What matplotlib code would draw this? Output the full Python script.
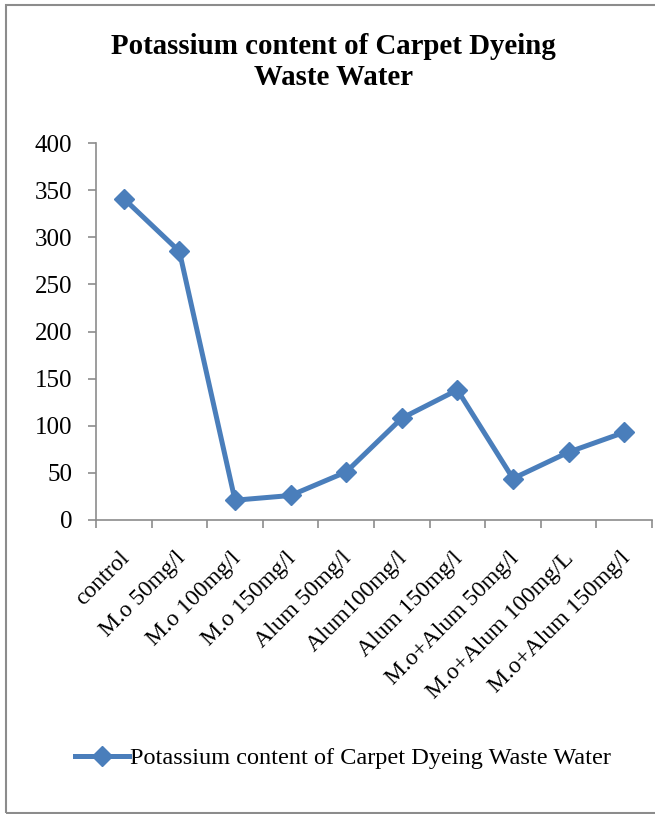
import matplotlib
matplotlib.use("Agg")
import matplotlib.pyplot as plt
from matplotlib.patches import Rectangle
from matplotlib.transforms import ScaledTranslation

categories = ["control", "M.o 50mg/l", "M.o 100mg/l", "M.o 150mg/l", "Alum 50mg/l",
              "Alum100mg/l", "Alum 150mg/l", "M.o+Alum 50mg/l", "M.o+Alum 100mg/L",
              "M.o+Alum 150mg/l"]
potassium = [341, 285, 21, 26, 51, 108, 138, 44, 72, 93]
series_name = "Potassium content of Carpet Dyeing Waste Water"
title = "Potassium content of Carpet Dyeing\nWaste Water"
yticks = [0, 50, 100, 150, 200, 250, 300, 350, 400]

plt.rcParams['font.family'] = ['Liberation Serif', 'DejaVu Serif']

W, H = 655, 814
fig = plt.figure(figsize=(W / 100, H / 100), dpi=100)

# outer border
fig.patches.append(Rectangle((6 / W, 1 / H), (W + 5 - 6) / W, (813 - 5) / H,
                             transform=fig.transFigure, fill=False,
                             edgecolor='#8c8c8c', linewidth=1.5))

ax = fig.add_axes([96 / W, 1 - 520 / H, (652 - 96) / W, (520 - 143) / H])
color = '#4A7EBB'
x = list(range(len(categories)))
ax.plot(x, potassium, color=color, linewidth=3.6, marker='D', markersize=10.5,
        markerfacecolor=color, markeredgecolor=color, label=series_name)

ax.set_xlim(-0.5, len(categories) - 0.5)
ax.set_ylim(0, 400)
ax.set_yticks(yticks)
ax.set_yticklabels([str(v) for v in yticks], fontsize=18)
ax.set_xticks(x)
ax.set_xticklabels(categories, rotation=45, ha='right', rotation_mode='anchor', fontsize=17)
ax.set_xticks([i - 0.5 for i in range(len(categories) + 1)], minor=True)
ax.tick_params(axis='x', which='major', length=0, pad=20)
ax.tick_params(axis='x', which='minor', length=6, color='#8c8c8c', width=1.2)
ax.tick_params(axis='y', length=6, color='#8c8c8c', width=1.2, pad=11)
for s in ['top', 'right']:
    ax.spines[s].set_visible(False)
for s in ['left', 'bottom']:
    ax.spines[s].set_color('#8c8c8c')
    ax.spines[s].set_linewidth(1.2)

shift = ScaledTranslation(-5 / 100, 0, fig.dpi_scale_trans)
for lbl in ax.get_xticklabels():
    lbl.set_transform(lbl.get_transform() + shift)

fig.text(333 / W, 1 - 62 / H, title, ha='center', va='center', fontsize=20.8,
         fontweight='bold', linespacing=1.15)

leg = fig.legend(loc='center', bbox_to_anchor=(343 / W, 1 - 758 / H), frameon=False,
                 fontsize=17.5, handlelength=2.2, handletextpad=0.05)

fig.savefig("out.png", dpi=100)
